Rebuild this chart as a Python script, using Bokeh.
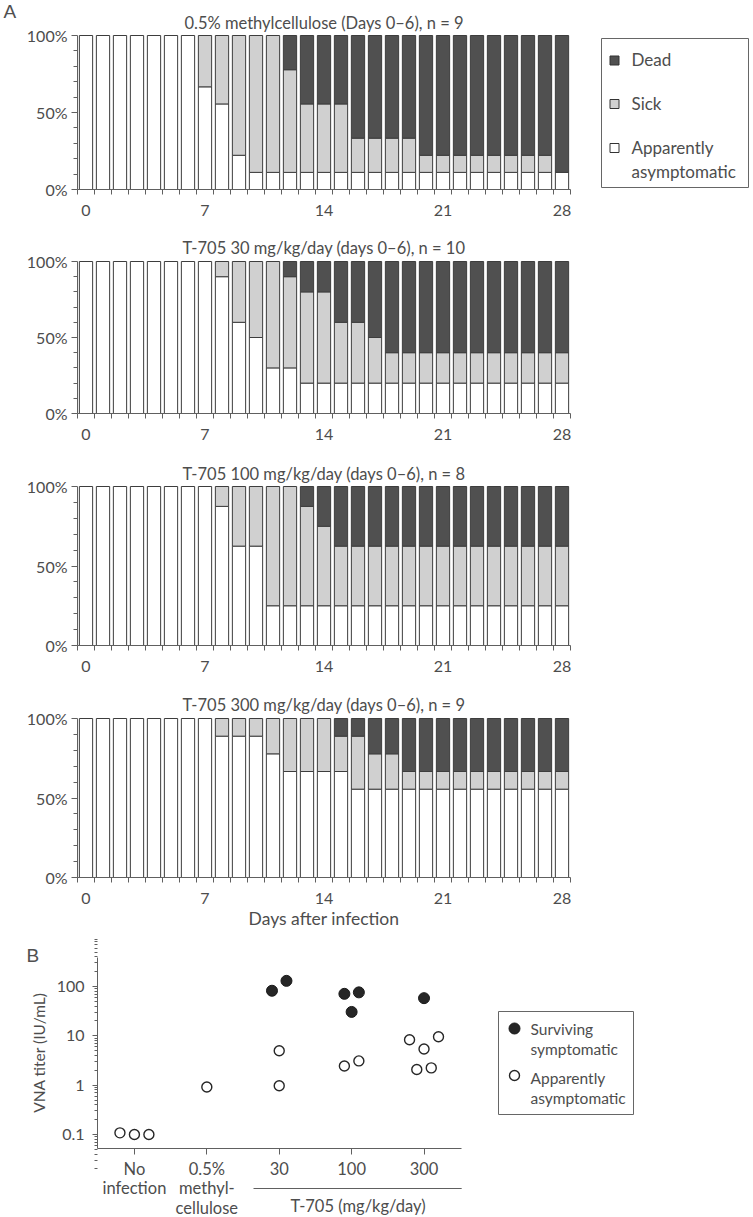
import math
from bokeh.plotting import figure
from bokeh.models import FixedTicker, Label, Range1d
from bokeh.layouts import column
from bokeh.embed import file_html
from bokeh.resources import INLINE
from bokeh.core.properties import value

# ---------------- data: panel A (number of animals per day) ----------------
days = list(range(29))
day_labels = [0, 7, 14, 21, 28]
titles = [
    "0.5% methylcellulose (Days 0\u20136), n = 9",
    "T-705 30 mg/kg/day (days 0\u20136), n = 10",
    "T-705 100 mg/kg/day (days 0\u20136), n = 8",
    "T-705 300 mg/kg/day (days 0\u20136), n = 9",
]
group_n = [9, 10, 8, 9]
#          d0 1  2  3  4  5  6  7  8  9 10 11 12 13 14 15 16 17 18 19 20 21 22 23 24 25 26 27 28
asym_mc = [9, 9, 9, 9, 9, 9, 9, 6, 5, 2, 1, 1, 1, 1, 1, 1, 1, 1, 1, 1, 1, 1, 1, 1, 1, 1, 1, 1, 1]
sick_mc = [0, 0, 0, 0, 0, 0, 0, 3, 4, 7, 8, 8, 6, 4, 4, 4, 2, 2, 2, 2, 1, 1, 1, 1, 1, 1, 1, 1, 0]
asym_30 = [10, 10, 10, 10, 10, 10, 10, 10, 9, 6, 5, 3, 3, 2, 2, 2, 2, 2, 2, 2, 2, 2, 2, 2, 2, 2, 2, 2, 2]
sick_30 = [0, 0, 0, 0, 0, 0, 0, 0, 1, 4, 5, 7, 6, 6, 6, 4, 4, 3, 2, 2, 2, 2, 2, 2, 2, 2, 2, 2, 2]
asym_100 = [8, 8, 8, 8, 8, 8, 8, 8, 7, 5, 5, 2, 2, 2, 2, 2, 2, 2, 2, 2, 2, 2, 2, 2, 2, 2, 2, 2, 2]
sick_100 = [0, 0, 0, 0, 0, 0, 0, 0, 1, 3, 3, 6, 6, 5, 4, 3, 3, 3, 3, 3, 3, 3, 3, 3, 3, 3, 3, 3, 3]
asym_300 = [9, 9, 9, 9, 9, 9, 9, 9, 8, 8, 8, 7, 6, 6, 6, 6, 5, 5, 5, 5, 5, 5, 5, 5, 5, 5, 5, 5, 5]
sick_300 = [0, 0, 0, 0, 0, 0, 0, 0, 1, 1, 1, 2, 3, 3, 3, 2, 3, 2, 2, 1, 1, 1, 1, 1, 1, 1, 1, 1, 1]
asym_all = [asym_mc, asym_30, asym_100, asym_300]
sick_all = [sick_mc, sick_30, sick_100, sick_300]
legend_a = ["Dead", "Sick", "Apparently", "asymptomatic"]

# ---------------- data: panel B (VNA titers) ----------------
categories = ["No\ninfection", "0.5%\nmethyl-\ncellulose", "30", "100", "300"]
symp_group = [2, 2, 3, 3, 3, 4]
symp_jitter = [-0.1, 0.1, -0.1, 0.1, 0.0, 0.0]
symp_titer = [82, 130, 71, 76, 30.5, 58]
asym_group = [0, 0, 0, 1, 2, 2, 3, 3, 4, 4, 4, 4, 4]
asym_jitter = [-0.2, 0.0, 0.2, 0.0, 0.0, 0.0, -0.1, 0.1, -0.2, 0.0, 0.2, -0.1, 0.1]
asym_titer = [0.108, 0.1, 0.1, 0.92, 5.0, 0.97, 2.45, 3.1, 8.3, 5.4, 9.6, 2.08, 2.24]
legend_b = ["Surviving", "symptomatic", "Apparently", "asymptomatic"]

# ---------------- style ----------------
FONT = "Lato"
TXT = "#4d4d4d"
AXC = "#606060"
EDGE = "#3d3d3d"
DEAD = "#505050"
SICK = "#d0d0d0"
W = 750
PX_A = 17.0      # px per day


def style_axis(ax, size="16px"):
    ax.axis_line_color = AXC
    ax.major_tick_line_color = AXC
    ax.minor_tick_line_color = AXC
    ax.major_label_text_font = FONT
    ax.major_label_text_font_size = size
    ax.major_label_text_color = TXT


def base_fig(height, xr, yr, **kw):
    p = figure(width=W, height=height, x_range=xr, y_range=yr, min_border=0,
               output_backend="svg", toolbar_location=None, tools="", **kw)
    p.title.visible = False
    p.outline_line_color = None
    p.grid.visible = False
    return p


def make_panel_a(k, fig_top, fig_bot, ft, fb, title_y, xlabel=False, legend=False):
    fh = fb - ft

    def ax_(xr):
        return -0.5 + (xr - 77) / PX_A

    def ay_(yr):
        return 100.0 * (fb - yr) / fh

    p = base_fig(fig_bot - fig_top, Range1d(ax_(0), ax_(W)),
                 Range1d(ay_(fig_bot), ay_(fig_top)))

    n = group_n[k]
    asym = asym_all[k]
    sick = sick_all[k]
    a_top = [100.0 * v / n for v in asym]
    s_top = [100.0 * (v + w) / n for v, w in zip(asym, sick)]
    BW = 0.78
    p.vbar(x=days, bottom=0, top=a_top, width=BW, fill_color="white",
           line_color=EDGE, line_width=1)
    si = [i for i in days if sick[i] > 0]
    p.vbar(x=[days[i] for i in si], bottom=[a_top[i] for i in si],
           top=[s_top[i] for i in si], width=BW, fill_color=SICK,
           line_color=EDGE, line_width=1)
    di = [i for i in days if asym[i] + sick[i] < n]
    p.vbar(x=[days[i] for i in di], bottom=[s_top[i] for i in di],
           top=[100] * len(di), width=BW, fill_color=DEAD,
           line_color=EDGE, line_width=1)

    xa = p.xaxis[0]
    xa.fixed_location = 0
    xa.ticker = FixedTicker(ticks=day_labels, minor_ticks=[d + 0.5 for d in range(-1, 29)])
    xa.bounds = (-0.5, 28.5)
    xa.major_tick_out = 0
    xa.major_tick_in = 0
    xa.minor_tick_out = 5
    xa.minor_tick_in = 0
    xa.major_label_standoff = 10
    style_axis(xa)

    ya = p.yaxis[0]
    ya.fixed_location = -0.5
    ya.bounds = (0, 100)
    ya.ticker = FixedTicker(ticks=[0, 50, 100], minor_ticks=[10, 20, 30, 40, 60, 70, 80, 90])
    ya.major_label_overrides = {0: "0%", 50: "50%", 100: "100%"}
    ya.major_tick_out = 6
    ya.major_tick_in = 0
    ya.minor_tick_out = 4
    ya.minor_tick_in = 0
    ya.major_label_standoff = 4
    style_axis(ya)

    p.text(x=[14], y=[ay_(title_y)], text=[titles[k]], text_align="center",
           text_baseline="middle", text_font=value(FONT), text_font_size="16.5px",
           text_color=TXT)

    if xlabel:
        p.text(x=[14], y=[ay_(918)], text=["Days after infection"], text_align="center",
               text_baseline="middle", text_font=value(FONT), text_font_size="17.5px",
               text_color=TXT)

    if legend:
        p.add_layout(Label(x=ax_(3), y=ay_(11), text="A", text_align="left",
                           text_baseline="middle", text_font="Liberation Sans",
                           text_font_size="19px", text_color="#505050"))
        p.quad(left=[ax_(601)], right=[ax_(748)], top=[ay_(38)], bottom=[ay_(187)],
               fill_color="white", line_color="#666666", line_width=1)
        p.scatter(x=[ax_(614)] * 3, y=[ay_(60), ay_(103.5), ay_(147.5)],
                  marker="square", size=9, fill_color=[DEAD, SICK, "white"],
                  line_color="#333333", line_width=1)
        p.text(x=[ax_(631)] * 4, y=[ay_(59), ay_(103), ay_(147), ay_(171)],
               text=legend_a, text_font=value(FONT), text_font_size="17px",
               text_baseline="middle", text_align="left", text_color=TXT)
    return p


p1 = make_panel_a(0, 0, 230, 35, 189, 22, legend=True)
p2 = make_panel_a(1, 230, 455, 261, 413, 247)
p3 = make_panel_a(2, 455, 685, 486, 645, 473)
p4 = make_panel_a(3, 685, 935, 718, 877, 704, xlabel=True)

# ---------------- panel B ----------------
B_TOP, B_BOT = 935, 1217
PX_B = 72.4
YLO, YHI = 0.052, 387.0
LLO, LHI = math.log10(YLO), math.log10(YHI)


def bx(xref):
    return -0.51 + (xref - 97) / PX_B


def by(yref):
    return 10 ** (LHI - (yref - 957) / 191.0 * (LHI - LLO))


pb = base_fig(B_BOT - B_TOP, Range1d(bx(0), bx(W)), Range1d(by(B_BOT), by(B_TOP)),
              y_axis_type="log")

pb.scatter(x=[g + j for g, j in zip(symp_group, symp_jitter)], y=symp_titer,
           marker="circle", size=11, fill_color="#262626", line_color="#1a1a1a", line_width=1)
pb.scatter(x=[g + j for g, j in zip(asym_group, asym_jitter)], y=asym_titer,
           marker="circle", size=10, fill_color="white", line_color="#262626", line_width=1.4)

xb = pb.xaxis[0]
xb.fixed_location = YLO
xb.ticker = FixedTicker(ticks=list(range(len(categories))))
xb.major_label_overrides = {i: c for i, c in enumerate(categories)}
xb.bounds = (-0.51, 4.52)
xb.major_tick_out = 6
xb.major_tick_in = 0
xb.minor_tick_out = 0
xb.minor_tick_in = 0
xb.major_label_standoff = 4
xb.major_label_text_line_height = 0.98
style_axis(xb, "16.5px")

yb = pb.yaxis[0]
yb.fixed_location = -0.51
yb.bounds = (YLO, YHI)
minor_b = [m * 10.0 ** e for e in (-2, -1, 0, 1, 2) for m in range(2, 10)]
yb.ticker = FixedTicker(ticks=[0.1, 1, 10, 100], minor_ticks=minor_b)
yb.major_label_overrides = {0.1: "0.1", 1: "1", 10: "10", 100: "100"}
yb.major_tick_out = 5
yb.major_tick_in = 0
yb.minor_tick_out = 3
yb.minor_tick_in = 0
yb.major_label_standoff = 8
style_axis(yb, "16px")

pb.text(x=[bx(38)], y=[by(1052)], text=["VNA titer (IU/mL)"], angle=math.pi / 2,
        text_align="center", text_baseline="middle", text_font=value(FONT),
        text_font_size="15.5px", text_color=TXT)
pb.add_layout(Label(x=bx(26), y=by(955), text="B", text_align="left",
                    text_baseline="middle", text_font="Liberation Sans",
                    text_font_size="19px", text_color="#505050"))
# bracket under the T-705 dose groups
pb.segment(x0=[bx(253)], y0=[by(1188)], x1=[4.52], y1=[by(1188)],
           line_color=AXC, line_width=1)
pb.text(x=[bx(357.5)], y=[by(1205)], text=["T-705 (mg/kg/day)"], text_align="center",
        text_baseline="middle", text_font=value(FONT), text_font_size="16.5px",
        text_color=TXT)

# legend for panel B
pb.quad(left=[bx(498)], right=[bx(633)], top=[by(1011)], bottom=[by(1114)],
        fill_color="white", line_color="#666666", line_width=1)
pb.scatter(x=[bx(514)], y=[by(1028)], marker="circle", size=11,
           fill_color="#262626", line_color="#1a1a1a")
pb.scatter(x=[bx(514)], y=[by(1075)], marker="circle", size=10,
           fill_color="white", line_color="#262626", line_width=1.4)
pb.text(x=[bx(530)] * 4, y=[by(1028), by(1048), by(1077), by(1097)],
        text=legend_b, text_font=value(FONT), text_font_size="15.5px",
        text_baseline="middle", text_align="left", text_color=TXT)

layout = column(p1, p2, p3, p4, pb)
open("out.html", "w").write(file_html(layout, INLINE))
